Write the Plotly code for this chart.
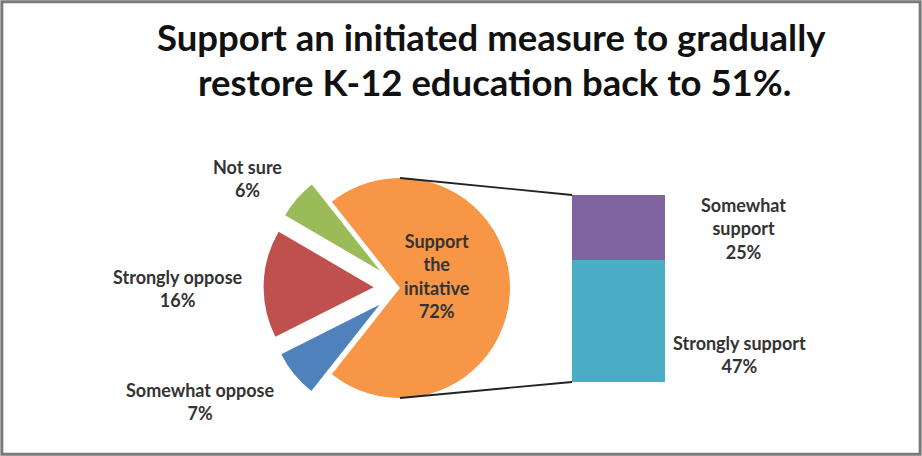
import plotly.graph_objects as go

# Survey results: pie of overall response, bar breaking down the support slice
pie_labels = ["Support the initative", "Somewhat oppose", "Strongly oppose", "Not sure"]
pie_values = [72, 7, 16, 6]
pie_colors = ["#F79646", "#4F81BD", "#C0504D", "#9BBB59"]
pie_pull = [0, 0.24, 0.24, 0.24]
pie_text = ["Support<br>the<br>initative", "Somewhat oppose", "Strongly oppose", "Not sure"]

bar_labels = ["Strongly support", "Somewhat support"]
bar_values = [47, 25]
bar_colors = ["#4BACC6", "#8064A2"]
bar_text = ["Strongly support", "Somewhat<br>support"]

title_lines = ["Support an initiated measure to gradually",
               "restore K-12 education back to 51%."]

W, H = 922, 456
FONT = "Lato, 'Open Sans', Arial, sans-serif"

# pie placement (pixels)
cx, cy, r = 400, 288, 110
half = r * (1 + max(pie_pull))
pie_dom_x = [(cx - half) / W, (cx + half) / W]
pie_dom_y = [1 - (cy + half) / H, 1 - (cy - half) / H]

total = sum(pie_values)
span = pie_values[0] / total * 360
rotation = 90 - span / 2  # centre the big slice on the right-hand side

# bar placement (pixels)
bx0, bx1, by_top, by_bot = 572, 665, 195, 382

fig = go.Figure()
fig.add_trace(go.Pie(
    labels=pie_labels, values=pie_values, sort=False, direction="clockwise",
    rotation=rotation, pull=pie_pull, textinfo="none", hoverinfo="label+percent",
    marker=dict(colors=pie_colors, line=dict(width=0)),
    domain=dict(x=pie_dom_x, y=pie_dom_y), showlegend=False,
))

for lab, val, col in zip(bar_labels, bar_values, bar_colors):
    fig.add_trace(go.Bar(
        x=[0], y=[val], name=lab, marker=dict(color=col, line=dict(width=0)),
        width=1, xaxis="x", yaxis="y", showlegend=False,
    ))

bar_total = sum(bar_values)
fig.update_layout(
    width=W, height=H, margin=dict(l=0, r=0, t=0, b=0),
    paper_bgcolor="white", plot_bgcolor="rgba(0,0,0,0)",
    barmode="stack", bargap=0,
    xaxis=dict(domain=[bx0 / W, bx1 / W], range=[-0.5, 0.5], visible=False, fixedrange=True),
    yaxis=dict(domain=[1 - by_bot / H, 1 - by_top / H], range=[0, bar_total],
               visible=False, fixedrange=True),
)

# connector lines from the pie to the bar
shapes = [
    dict(type="line", xref="paper", yref="paper",
         x0=cx / W, y0=1 - (cy - r) / H, x1=bx0 / W, y1=1 - by_top / H,
         line=dict(color="#222222", width=1.8)),
    dict(type="line", xref="paper", yref="paper",
         x0=cx / W, y0=1 - (cy + r) / H, x1=bx0 / W, y1=1 - by_bot / H,
         line=dict(color="#222222", width=1.8)),
    # outer frame
    dict(type="rect", xref="paper", yref="paper", x0=0.002, y0=0.004, x1=0.998, y1=0.996,
         line=dict(color="#7a7a7a", width=3)),
]
fig.update_layout(shapes=shapes)

ann = []
title_font = dict(family=FONT, size=36.5, color="#111111")
for txt, (px, py) in zip(title_lines, [(491, 37), (494, 82)]):
    ann.append(dict(text=f"<b>{txt}</b>", x=px / W, y=1 - py / H,
                    xref="paper", yref="paper", showarrow=False,
                    xanchor="center", yanchor="middle", font=title_font))

label_font = dict(family=FONT, size=18, color="#333333")
# pie label positions (pixels)
pie_label_pos = [(437, 276), (200, 401), (178, 288), (247, 178)]
for txt, val, (px, py) in zip(pie_text, pie_values, pie_label_pos):
    ann.append(dict(text=f"<b>{txt}<br>{val}%</b>", x=px / W, y=1 - py / H,
                    xref="paper", yref="paper", showarrow=False,
                    xanchor="center", yanchor="middle", font=label_font))

bar_label_pos = [(739, 354), (743, 229)]
for txt, val, (px, py) in zip(bar_text, bar_values, bar_label_pos):
    ann.append(dict(text=f"<b>{txt}<br>{val}%</b>", x=px / W, y=1 - py / H,
                    xref="paper", yref="paper", showarrow=False,
                    xanchor="center", yanchor="middle", font=label_font))

fig.update_layout(annotations=ann)

fig.write_html("out.html", config=dict(displayModeBar=False))
